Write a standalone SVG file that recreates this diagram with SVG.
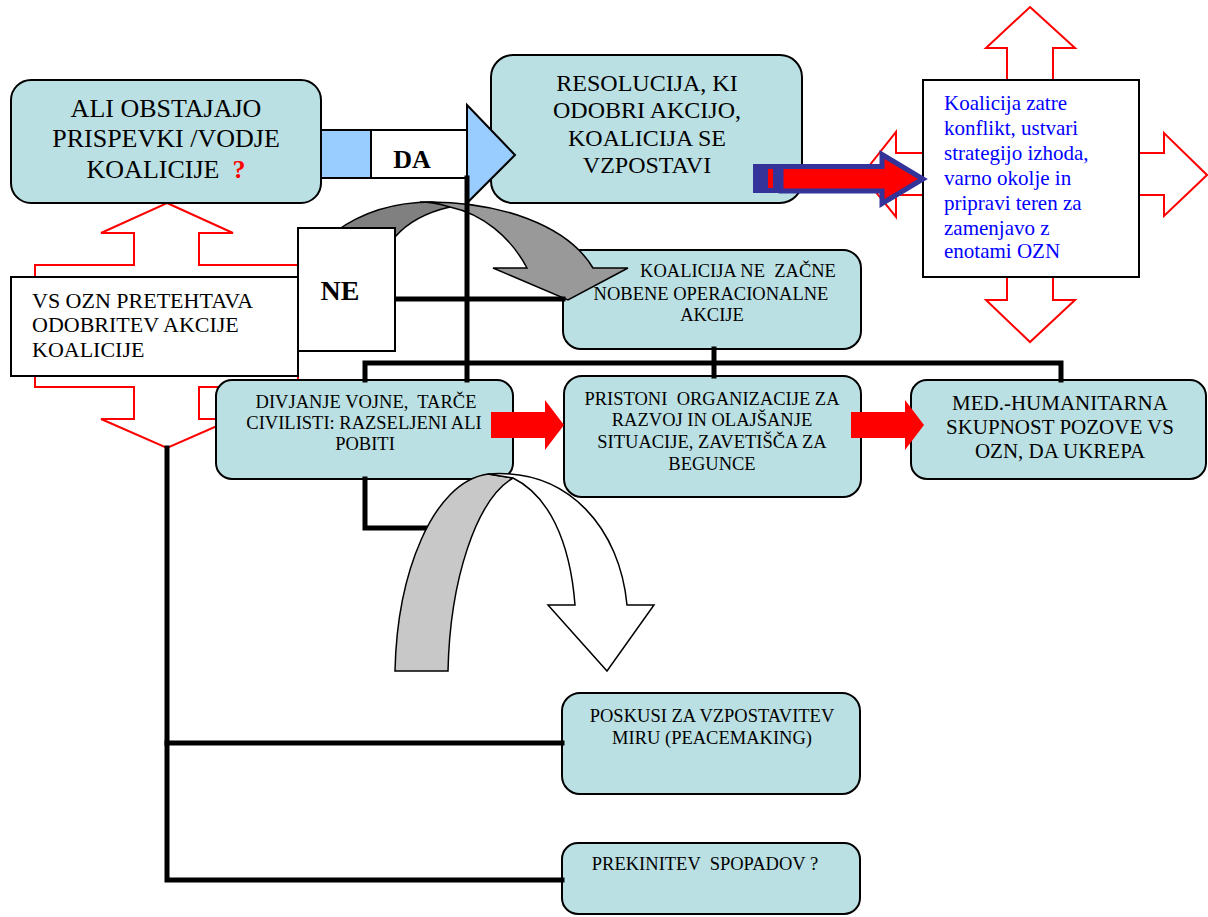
<svg xmlns="http://www.w3.org/2000/svg" width="1208" height="917" viewBox="0 0 1208 917" font-family="'Liberation Serif', 'Times New Roman', 'DejaVu Serif', serif">
<style>
text{font-family:'Liberation Serif','Times New Roman','DejaVu Serif',serif;fill:#000;white-space:pre}
.box{fill:#bbe0e3;stroke:#000;stroke-width:2}
.wbox{fill:#fff;stroke:#000;stroke-width:2}
.redout{fill:#fff;stroke:#ff0000;stroke-width:2;stroke-linejoin:miter}
.big{font-size:26px;text-anchor:middle}
.mid{font-size:24px;text-anchor:middle}
.sm{font-size:18.5px;text-anchor:middle}
.blue{font-size:21px;fill:#0000ff}
.conn{fill:none;stroke:#000;stroke-width:5;stroke-linejoin:miter;stroke-linecap:square}
.arc{stroke:#000;stroke-width:1.5;stroke-linejoin:miter}
</style>
<rect width="1208" height="917" fill="#fff"/>

<!-- red outline arrows -->
<g id="left-updown-arrow">
<polygon class="redout" points="167,203 233,233 199,233 199,265 298,265 298,387 199,387 199,419 233,419 167,448 101,419 134,419 134,387 35,387 35,265 134,265 134,233 101,233"/>
</g>
<g id="right-quad-arrow">
<polygon class="redout" points="1030,7 1075,48 1053,48 1053,153 1164,153 1164,133 1207,175 1164,216 1164,195 1053,195 1053,300 1075,300 1030,342 986,300 1007,300 1007,195 896,195 896,217 862,175 896,132 896,153 1007,153 1007,48 986,48"/>
</g>

<g id="node-koalicija-zatre">
<rect class="wbox" x="923" y="80" width="216" height="197"/>
<text class="blue" x="944" y="110">Koalicija zatre</text>
<text class="blue" x="944" y="135">konflikt, ustvari</text>
<text class="blue" x="944" y="160">strategijo izhoda,</text>
<text class="blue" x="944" y="185">varno okolje in</text>
<text class="blue" x="944" y="210">pripravi teren za</text>
<text class="blue" x="944" y="235">zamenjavo z</text>
<text class="blue" x="944" y="258">enotami OZN</text>
</g>

<g id="node-vs-ozn">
<rect class="wbox" x="11" y="277" width="287" height="99"/>
<text x="32" y="308" style="font-size:22px">VS OZN PRETEHTAVA</text>
<text x="32" y="332" style="font-size:22px">ODOBRITEV AKCIJE</text>
<text x="32" y="357" style="font-size:22px">KOALICIJE</text>
</g>

<g id="node-ali-obstajajo">
<rect class="box" x="11" y="80" width="310" height="123" rx="20"/>
<text class="big" x="166" y="117">ALI OBSTAJAJO</text>
<text class="big" x="166" y="147">PRISPEVKI /VODJE</text>
<text class="big" x="166" y="178">KOALICIJE  <tspan fill="#ff0000" font-weight="bold">?</tspan></text>
</g>

<g id="node-resolucija">
<rect class="box" x="491" y="55" width="311" height="148" rx="22"/>
<text class="mid" x="647" y="91">RESOLUCIJA, KI</text>
<text class="mid" x="647" y="118">ODOBRI AKCIJO,</text>
<text class="mid" x="647" y="146">KOALICIJA SE</text>
<text class="mid" x="647" y="173">VZPOSTAVI</text>
</g>

<g id="node-koalicija-ne">
<rect class="box" x="563" y="250" width="298" height="99" rx="18"/>
<text class="sm" x="738" y="277">KOALICIJA NE  ZAČNE</text>
<text class="sm" x="711" y="300">NOBENE OPERACIONALNE</text>
<text class="sm" x="712" y="321">AKCIJE</text>
</g>

<g id="node-divjanje">
<rect class="box" x="216" y="380" width="297" height="99" rx="16"/>
<text class="sm" x="366" y="408">DIVJANJE VOJNE,  TARČE</text>
<text class="sm" x="364" y="429">CIVILISTI: RAZSELJENI ALI</text>
<text class="sm" x="365" y="450">POBITI</text>
</g>

<g id="node-pristoni">
<rect class="box" x="564" y="376" width="297" height="121" rx="18"/>
<text class="sm" x="712" y="405">PRISTONI  ORGANIZACIJE ZA</text>
<text class="sm" x="712" y="426">RAZVOJ IN OLAJŠANJE</text>
<text class="sm" x="712" y="448">SITUACIJE, ZAVETIŠČA ZA</text>
<text class="sm" x="712" y="470">BEGUNCE</text>
</g>

<g id="node-med-humanitarna">
<rect class="box" x="911" y="380" width="295" height="99" rx="16"/>
<text x="1060" y="410" style="font-size:21px;text-anchor:middle">MED.-HUMANITARNA</text>
<text x="1060" y="434" style="font-size:21px;text-anchor:middle">SKUPNOST POZOVE VS</text>
<text x="1060" y="458" style="font-size:21px;text-anchor:middle">OZN, DA UKREPA</text>
</g>

<g id="node-poskusi">
<rect class="box" x="562" y="693" width="298" height="101" rx="18"/>
<text class="sm" x="712" y="722">POSKUSI ZA VZPOSTAVITEV</text>
<text class="sm" x="712" y="744">MIRU (PEACEMAKING)</text>
</g>

<g id="node-prekinitev">
<rect class="box" x="562" y="843" width="298" height="71" rx="16"/>
<text class="sm" x="705" y="870">PREKINITEV  SPOPADOV ?</text>
</g>

<!-- DA arrow -->
<g id="arrow-da">
<rect x="321" y="130" width="50" height="48" fill="#99ccff" stroke="#000" stroke-width="2"/>
<rect x="371" y="130" width="96" height="48" fill="#fff" stroke="#000" stroke-width="2"/>
<polygon points="467,105 515,155 467,203" fill="#99ccff" stroke="#000" stroke-width="2"/>
<text x="412" y="168" style="font-size:26px;font-weight:bold;text-anchor:middle">DA</text>
</g>

<!-- striped blue/red arrow -->
<g id="arrow-striped">
<path d="M781,166.5 L882,166.5 L882,154.5 L923,179 L882,203.5 L882,191 L781,191 Z" fill="#ff0000" stroke="#333399" stroke-width="5"/>
<rect x="753" y="164" width="30" height="29" fill="#333399"/>
<rect x="768" y="169" width="5" height="19" fill="#ff0000"/>
</g>

<!-- top grey curved arrow -->
<g id="arrow-curved-top">
<path class="arc" d="M335,232 C362,212 396,202 432,202 C440,203 446,205 450,207 C428,212 408,222 395,237 L340,245 Z" fill="#808080"/>
<path class="arc" d="M420,202 C500,200 568,226 593,268 L628,268 L568,300 L493,268 L527,268 C510,236 482,214 450,207 C440,204 430,202 420,202 Z" fill="#999999"/>
</g>

<!-- connectors -->
<g id="connectors">
<polyline class="conn" points="467,178 467,380"/>
<polyline class="conn" points="395,299 563,299"/>
<polyline class="conn" points="365,380 365,363 1061,363 1061,380"/>
<polyline class="conn" points="714,349 714,376"/>
<polyline class="conn" points="365,479 365,528 440,528"/>
<polyline class="conn" points="167,448 167,880 562,880"/>
<polyline class="conn" points="167,743 562,743"/>
</g>

<g id="node-ne">
<rect class="wbox" x="298" y="228" width="97" height="123"/>
<text x="340" y="300" style="font-size:28px;font-weight:bold;text-anchor:middle">NE</text>
</g>

<!-- bottom U-turn arrow -->
<g id="arrow-curved-bottom">
<path class="arc" d="M395,671 C397,575 432,482 488,474 L513,478 C476,500 450,580 448,671 Z" fill="#c8c8c8"/>
<path class="arc" d="M488,474 C570,468 620,530 627,605 L654,605 L607,671 L548,605 L575,605 C570,540 548,495 513,478 Z" fill="#fff"/>
</g>

<!-- red block arrows -->
<g id="arrow-red-1">
<polygon points="491,412 545,412 545,400 564,425 545,450 545,438 491,438" fill="#ff0000"/>
</g>
<g id="arrow-red-2">
<polygon points="851,412 905,412 905,400 924,425 905,450 905,438 851,438" fill="#ff0000"/>
</g>
</svg>
